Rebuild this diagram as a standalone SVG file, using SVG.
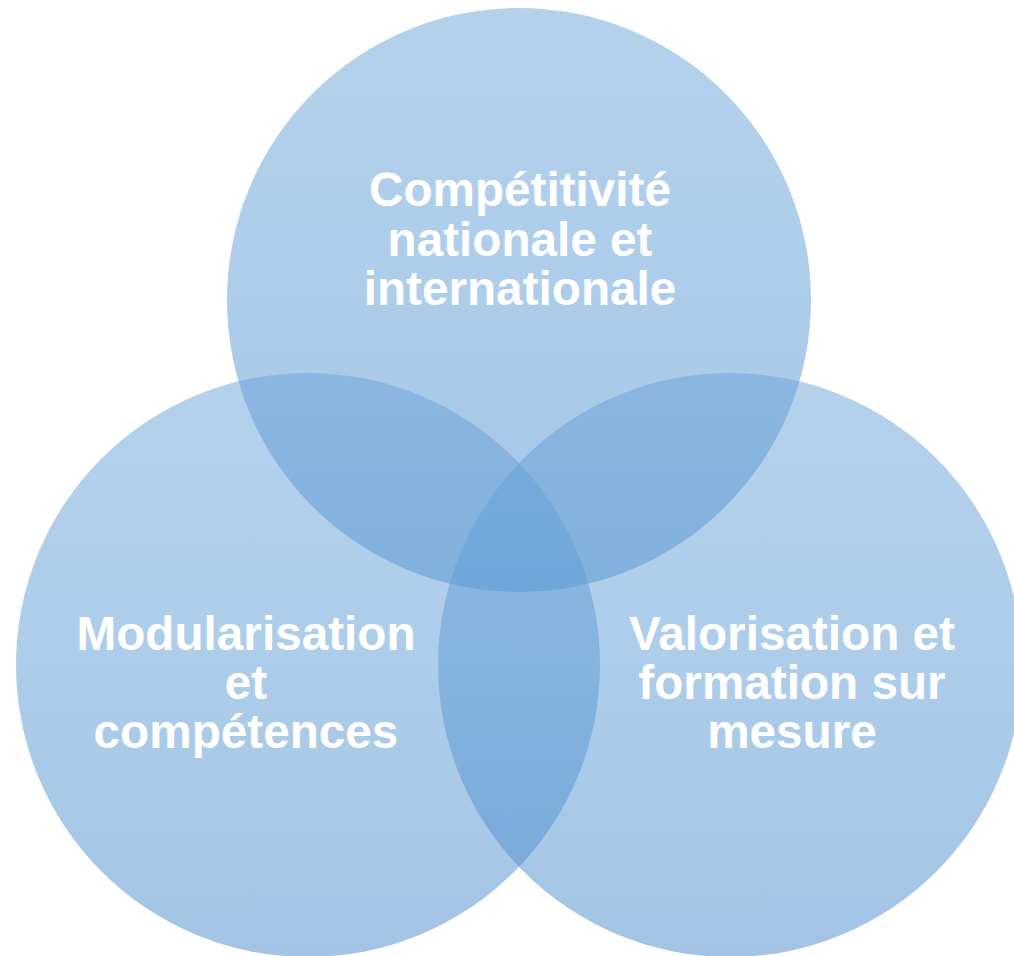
<svg xmlns="http://www.w3.org/2000/svg" width="1014" height="956" viewBox="0 0 1014 956">
  <defs>
    <linearGradient id="g" x1="0" y1="0" x2="0" y2="1">
      <stop offset="0" stop-color="#6ba3d9"/>
      <stop offset="0.5" stop-color="#5b9bd5"/>
      <stop offset="1" stop-color="#4789c9"/>
    </linearGradient>
  </defs>
  <style>
    .c { fill: url(#g); fill-opacity: 0.5; stroke: none; }
    .t { font-family: "Liberation Sans", Arial, sans-serif; font-weight: bold; font-size: 47.7px; fill: #ffffff; text-anchor: middle; }
  </style>
  <rect width="1014" height="956" fill="#ffffff"/>
  <g id="node-top">
    <circle class="c" cx="519" cy="300" r="292"/>
  </g>
  <g id="node-left">
    <circle class="c" cx="308" cy="665" r="292"/>
  </g>
  <g id="node-right">
    <circle class="c" cx="730" cy="665" r="292"/>
  </g>
  <g id="labels">
    <text class="t" x="520" y="206">Compétitivité</text>
    <text class="t" x="520" y="256">nationale et</text>
    <text class="t" x="520" y="305">internationale</text>
    <text class="t" x="246" y="650">Modularisation</text>
    <text class="t" x="246" y="699">et</text>
    <text class="t" x="246" y="748">compétences</text>
    <text class="t" x="792" y="650">Valorisation et</text>
    <text class="t" x="792" y="699">formation sur</text>
    <text class="t" x="792" y="748">mesure</text>
  </g>
  <g id="connectors"></g>
</svg>
